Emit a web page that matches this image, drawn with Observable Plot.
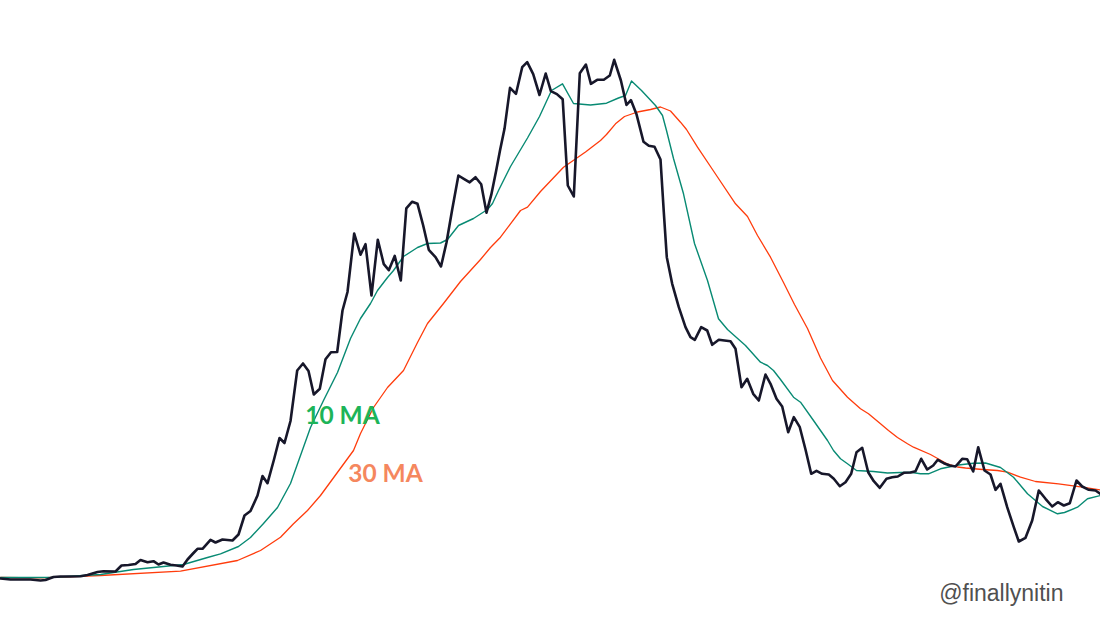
<!DOCTYPE html>
<html>
<head>
<meta charset="utf-8">
<script src="https://cdn.jsdelivr.net/npm/d3@7"></script>
<script src="https://cdn.jsdelivr.net/npm/@observablehq/plot@0.6"></script>
<style>
  html, body { margin: 0; padding: 0; background: #ffffff; }
  #chart svg { display: block; }
</style>
</head>
<body>
<div id="chart"></div>
<script>
// Price series (time in sessions/10, price in arbitrary units)
const priceDay = [0,1,2,3,4,4.5,5.3,6,7,8,8.7,9.7,10.3,11.5,12.1,12.8,13.5,14,14.7,15.3,15.8,16.3,17,17.6,18.2,18.7,19.3,19.7,20.2,21,21.5,22.2,23.2,23.8,24.4,25,25.7,26.2,26.7,27.35,27.9,28.4,29,29.67,30.25,30.8,31.33,31.93,32.5,33.05,33.67,34.2,34.7,35.37,36,36.5,37.1,37.73,38.33,38.83,39.42,40.03,40.58,41.17,41.7,42.27,42.83,43.5,44.05,44.6,45.17,45.79,46.33,46.92,47.5,48.07,48.6,49.08,49.55,49.95,50.4,50.95,51.55,52.17,52.67,53.27,53.9,54.52,55.04,55.64,56.22,56.73,57.33,57.93,58.54,59.04,59.67,60.33,60.93,61.37,62.04,62.6,63.04,63.59,64.3,64.83,65.4,66,66.33,66.63,67.17,67.83,68.5,69,69.43,70.07,70.67,71.17,71.83,72.4,73,73.5,74.1,74.67,75.27,75.83,76.5,77,77.6,78.17,78.77,79.33,79.93,80.5,81.07,81.6,82.17,82.83,83.33,83.93,84.5,85.07,85.6,86.17,86.77,87.33,87.93,88.6,89.17,89.73,90.33,91,91.5,92.07,92.67,93.27,93.73,94.33,94.93,95.5,96.17,96.67,97.27,97.77,98.4,99,99.5,100,100.67,101.33,101.83,102.5,103.17,103.83,104.5,105.17,105.73,106.33,106.93,107.6,108.17,108.83,109.5,110];
const price = [22,21,21,21,20,20.5,23.5,24,24,24.3,25.5,28.5,29.3,29,35,35.5,36.5,40.5,38.3,39.3,36,38,35.7,35,34,41,47.5,51.7,51.7,60.7,58,61,60,66,85,89.5,105,124.5,117.3,141,162.5,157.5,179.5,230,237,229.5,206,211.7,241.2,248.3,248.5,290,308.5,367,345.8,356.3,305,360.8,336.3,330.3,344.6,320,392.2,398.8,396.7,375,350.7,343.3,334,358,391,425,421.7,418.2,423.3,416.3,387.8,405.8,429,450,471.7,512.7,506.7,533.3,538.3,526.4,505.5,527,509.3,506.4,501.2,415,404,527.3,536,516.7,520.7,520.7,525,540.7,520,495.5,500.4,486.6,458.8,454.7,453.7,441,388.4,343.3,316.7,293.3,273.3,263.3,260.7,273.3,270,255.7,260.7,260,259.3,251.7,213.3,221.7,206.7,200,226,216.7,201.7,194,168.3,183.3,173.3,151,126.7,129.7,126.7,126,121.7,114.3,118.3,126.7,148.3,152.7,128.3,119.3,112.7,121.7,123.3,124,127.7,128,129.3,141.7,131,135,140.7,137.3,135,134,141.7,141.3,129,153.3,130,126,110.7,116.7,93.3,73.3,59,62.7,80,110,101.7,94,98.3,95,97.3,120,114,110.7,110,106.7];

// 10-period moving average
const ma10Day = [0,5,10,13.3,18.3,20.7,22,23.8,25,26.3,27.7,29,30,31,32.3,33.7,35,36,37,37.7,38.7,39.3,40.3,41.7,42.7,44,44.7,45.8,47.3,48.7,49.2,49.8,51,52.7,53.9,55.1,56.2,57.3,59,60.6,61.8,62.5,63.1,64.1,65.5,66.2,66.6,67.3,68.3,69.4,70.7,71.8,72.7,74.5,76,76.7,77.3,78,79.3,80,81.3,82,82.7,83.3,84,84.7,85.6,87.3,88.7,90,91,92,92.8,94,95.8,97.3,98.5,100,101.3,102.7,104.2,105.7,106.4,107.7,108.7,110];
const ma10 = [23,23,26,31,36,43,46.7,54,63,77,93,117,145,173,200,228,262,282,297,310,323,330,344,353,357,357.5,361,375,382,391,397,410,434,462.5,484,510,516.7,497,495.5,497.3,502.5,505,519.5,510,495,485,470,442,406.7,357,320,281.7,271,255,238.3,235,230,221,203.3,198.3,180,170,160,150,141.7,136.7,130,129,127.5,128,128.3,126.7,126.7,131.7,135.5,137.3,137.5,133,123.3,106.7,94,86.7,88,93.3,101.7,105];

// 30-period moving average
const ma30Day = [0,4,10,18,23.7,26,28,29.3,30.7,32,35.3,36,37.3,38.7,40.3,41.7,42.7,44.3,46,47,48,49,50,51,52,52.7,54,56.3,58.5,60,60.6,61.5,62.4,63.7,65,66,67,68,68.6,69.7,71.4,73.5,74.7,75.7,77,78.3,79.4,80.7,82,83.2,84.7,86,86.8,88,88.8,89.7,90.7,91.3,93,94.6,95.7,96.5,98.2,99.7,100.7,102,103.5,105.8,108.2,110];
const ma30 = [23,22.7,25,29.3,40,50,63.3,76.7,90,105,150,167,193,213,230,258,277,297,319,330,341,353,363.3,376.7,390,393.3,409,433.3,448.5,460,466,476.7,484,488.5,491,493.5,489.5,478.3,471,453.3,428,396.7,384,365,343.3,318,296,272,242.5,220,203.3,191.7,186.7,176.7,170,163,156.7,153.3,146,137,133.5,132.5,131,130,128.3,123.3,119,116.7,113.3,110.5];

const labels = ["10 MA", "30 MA"];
const caption = "@finallynitin";

const priceData = priceDay.map((d, i) => ({day: d, value: price[i]}));
const ma10Data = ma10Day.map((d, i) => ({day: d, value: ma10[i]}));
const ma30Data = ma30Day.map((d, i) => ({day: d, value: ma30[i]}));

const chart = Plot.plot({
  width: 1100,
  height: 628,
  marginTop: 0,
  marginRight: 0,
  marginBottom: 28,
  marginLeft: 0,
  x: {domain: [0, 110], axis: null},
  y: {domain: [0, 600], axis: null},
  style: {background: "#ffffff", overflow: "visible"},
  marks: [
    Plot.line(ma30Data, {x: "day", y: "value", stroke: "#ff3c0c", strokeWidth: 1.3}),
    Plot.line(ma10Data, {x: "day", y: "value", stroke: "#088a73", strokeWidth: 1.4}),
    Plot.line(priceData, {x: "day", y: "value", stroke: "#17172a", strokeWidth: 2.6}),
    Plot.text([labels[0]], {x: 34.2, y: 184, text: d => d, fill: "#1db458", fontSize: 24.5, fontWeight: "bold", fontFamily: "Lato", textAnchor: "middle", lineAnchor: "middle"}),
    Plot.text([labels[1]], {x: 38.5, y: 126, text: d => d, fill: "#f5875e", fontSize: 24.5, fontWeight: "bold", fontFamily: "Lato", textAnchor: "middle", lineAnchor: "middle"}),
    Plot.text([caption], {frameAnchor: "bottom-right", text: d => d, dx: -37, dy: -7, fill: "#505050", fontSize: 23, fontFamily: "Liberation Sans", textAnchor: "end", lineAnchor: "middle"})
  ]
});
document.getElementById("chart").appendChild(chart);
</script>
</body>
</html>
